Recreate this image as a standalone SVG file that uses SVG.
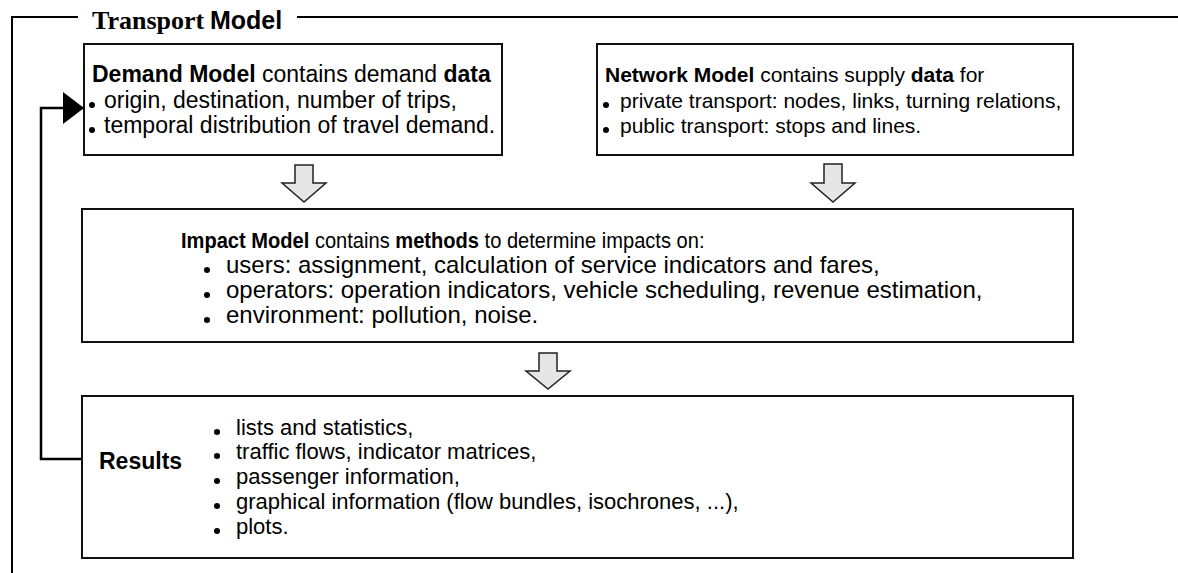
<svg xmlns="http://www.w3.org/2000/svg" width="1178" height="573" viewBox="0 0 1178 573">
<style>
.box{fill:#fff;stroke:#111;stroke-width:2}
.frame{fill:none;stroke:#000;stroke-width:2}
.conn{fill:none;stroke:#000;stroke-width:2.5}
.t{font-family:"Liberation Sans",Arial,sans-serif;font-size:23px;fill:#000}
.n{font-size:21px}
.r{font-size:22px}
.i{font-size:24px}
.b{font-weight:bold}
.dot{fill:#000}
.down{fill:#e6e6e6;stroke:#222;stroke-width:1.5;stroke-linejoin:miter}
</style>
<defs>
<marker id="ah" markerUnits="userSpaceOnUse" markerWidth="22" markerHeight="32" refX="21" refY="16" orient="auto">
<path d="M0,0 L21,16 L0,32 Z" fill="#000"/>
</marker>
</defs>
<g id="frame">
<path class="frame" d="M12,573 V17 H78 M297,17 H1178"/>
<text x="92" y="29" font-family="'Liberation Serif','Times New Roman',serif" font-weight="bold" font-size="26">Transport</text>
<text x="210" y="29" font-family="'Liberation Sans',Arial,sans-serif" font-weight="bold" font-size="25">Model</text>
</g>
<g id="connectors">
<path class="conn" d="M82,459 H41 V108 H84" marker-end="url(#ah)"/>
<path class="down" d="M295,165 H313 V183 H326 L304,202 L282,183 H295 Z"/>
<path class="down" d="M824,164 H842 V183 H855 L833,202 L811,183 H824 Z"/>
<path class="down" d="M539,353 H557 V371 H570 L548,389 L526,371 H539 Z"/>
</g>
<g id="demand">
<rect class="box" x="84" y="44" width="418" height="111"/>
<text class="t" x="92" y="82"><tspan class="b">Demand Model</tspan> contains demand <tspan class="b">data</tspan></text>
<circle class="dot" cx="92" cy="105" r="3"/>
<text class="t" x="104" y="108">origin, destination, number of trips,</text>
<circle class="dot" cx="92" cy="130" r="3"/>
<text class="t" x="104" y="133">temporal distribution of travel demand.</text>
</g>
<g id="network">
<rect class="box" x="597" y="44" width="476" height="111"/>
<text class="t n" x="605" y="82"><tspan class="b">Network Model</tspan> contains supply <tspan class="b">data</tspan> for</text>
<circle class="dot" cx="606" cy="105" r="3"/>
<text class="t n" x="620" y="108">private transport: nodes, links, turning relations,</text>
<circle class="dot" cx="606" cy="130" r="3"/>
<text class="t n" x="620" y="133">public transport: stops and lines.</text>
</g>
<g id="impact">
<rect class="box" x="82" y="209" width="991" height="133"/>
<text class="t" transform="translate(181,248) scale(0.874,1)" x="0" y="0"><tspan class="b">Impact Model</tspan> contains <tspan class="b">methods</tspan> to determine impacts on:</text>
<circle class="dot" cx="207" cy="270" r="3"/>
<text class="t i" x="226" y="273">users: assignment, calculation of service indicators and fares,</text>
<circle class="dot" cx="207" cy="295" r="3"/>
<text class="t i" x="226" y="298">operators: operation indicators, vehicle scheduling, revenue estimation,</text>
<circle class="dot" cx="207" cy="320" r="3"/>
<text class="t i" x="226" y="323">environment: pollution, noise.</text>
</g>
<g id="results">
<rect class="box" x="82" y="396" width="991" height="162"/>
<text class="t b" x="99" y="469" font-size="20">Results</text>
<circle class="dot" cx="217" cy="432" r="3"/>
<text class="t r" x="236" y="435">lists and statistics,</text>
<circle class="dot" cx="217" cy="456" r="3"/>
<text class="t r" x="236" y="459">traffic flows, indicator matrices,</text>
<circle class="dot" cx="217" cy="481" r="3"/>
<text class="t r" x="236" y="484">passenger information,</text>
<circle class="dot" cx="217" cy="506" r="3"/>
<text class="t r" x="236" y="509">graphical information (flow bundles, isochrones, ...),</text>
<circle class="dot" cx="217" cy="531" r="3"/>
<text class="t r" x="236" y="534">plots.</text>
</g>
</svg>
